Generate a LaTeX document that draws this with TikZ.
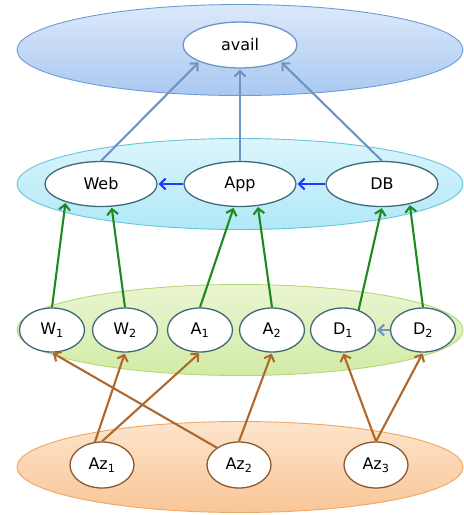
\documentclass[tikz,border=0pt]{standalone}
\usepackage{fontspec}
\setmainfont{DejaVu Sans}
\usetikzlibrary{shapes.geometric,arrows.meta}

\definecolor{availedge}{HTML}{6E94C4}
\definecolor{tierblue}{HTML}{1F3CFF}
\definecolor{vmgreen}{HTML}{1E8A1E}
\definecolor{azbrown}{HTML}{B0682A}
\definecolor{nodeline}{HTML}{3E6A78}
\definecolor{zoneline}{HTML}{8A5A2E}
\definecolor{availline}{HTML}{6F9BD3}
\definecolor{availtop}{HTML}{DCE9FB}
\definecolor{availbot}{HTML}{A9C8F0}
\definecolor{tierline}{HTML}{66C5DD}
\definecolor{tiertop}{HTML}{DCF5FC}
\definecolor{tierbot}{HTML}{B0E8F7}
\definecolor{vmline}{HTML}{B5D77A}
\definecolor{vmtop}{HTML}{EAF5D2}
\definecolor{vmbot}{HTML}{D2EBA6}
\definecolor{azline}{HTML}{F2A65E}
\definecolor{aztop}{HTML}{FDE4CC}
\definecolor{azbot}{HTML}{F9C697}

\begin{document}
\begin{tikzpicture}[x=1pt,y=-1pt]
\tikzstyle{every node}+=[inner sep=0pt,font=\fontsize{16}{19}\selectfont]
\tikzstyle{layer}=[ellipse,minimum width=446pt,minimum height=91pt,line width=0.9pt]
\tikzstyle{comp}=[ellipse,draw=nodeline,fill=white,line width=1.3pt]
\tikzstyle{big}=[comp,minimum width=112pt,minimum height=45pt]
\tikzstyle{small}=[comp,minimum width=65pt,minimum height=44pt]
\tikzstyle{zone}=[comp,draw=zoneline,minimum width=64pt,minimum height=46pt]
\tikzstyle{link}=[-{Straight Barb[length=5.5pt,width=11pt,line width=2.1pt]},line width=2.1pt,shorten >=1pt]
\useasboundingbox (0,0) rectangle (464,515);
% layers
\node [layer,draw=availline,top color=availtop,bottom color=availbot] (lavail) at (240,50) {};
\node [layer,draw=tierline,top color=tiertop,bottom color=tierbot] (ltier) at (240,184) {};
\node [layer,draw=vmline,top color=vmtop,bottom color=vmbot] (lvm) at (240,330) {};
\node [layer,draw=azline,top color=aztop,bottom color=azbot] (laz) at (240,467) {};
% nodes
\node [big,draw=availedge,minimum width=114pt,minimum height=46pt] (avail) at (240,45) {avail};
\node [big] (web) at (101,184) {Web};
\node [big] (app) at (240,184) {App};
\node [big] (db) at (382,184) {DB};
\node [small] (w1) at (52,330) {W\textsubscript{1}};
\node [small] (w2) at (125,330) {W\textsubscript{2}};
\node [small] (a1) at (200,330) {A\textsubscript{1}};
\node [small] (a2) at (272,330) {A\textsubscript{2}};
\node [small] (d1) at (343,330) {D\textsubscript{1}};
\node [small] (d2) at (423,330) {D\textsubscript{2}};
\node [zone] (az1) at (102,465) {Az\textsubscript{1}};
\node [zone] (az2) at (239,465) {Az\textsubscript{2}};
\node [zone] (az3) at (376,465) {Az\textsubscript{3}};
% tiers to avail
\draw [link,availedge] (web.north) -- (avail.south west);
\draw [link,availedge] (app.north) -- (avail.south);
\draw [link,availedge] (db.north) -- (avail.south east);
\draw [link,tierblue] (app.west) -- (web.east);
\draw [link,tierblue] (db.west) -- (app.east);
% vms to tiers
\draw [link,vmgreen] (w1.north) -- (web.207);
\draw [link,vmgreen] (w2.north) -- (web.295);
\draw [link,vmgreen] (a1.north) -- (app.255);
\draw [link,vmgreen] (a2.north) -- (app.309);
\draw [link,vmgreen] (d1.52) -- (db.south);
\draw [link,vmgreen] (d2.north) -- (db.324);
\draw [link,availedge] (d2.west) -- (d1.east);
% zones to vms
\draw [link,azbrown] (az1.107) -- (w2.south);
\draw [link,azbrown] (az1.north) -- (a1.south);
\draw [link,azbrown] (az2.142) -- (w1.south);
\draw [link,azbrown] (az2.north) -- (a2.south);
\draw [link,azbrown] (az3.north) -- (d1.south);
\draw [link,azbrown] (az3.north) -- (d2.south);
\end{tikzpicture}
\end{document}
